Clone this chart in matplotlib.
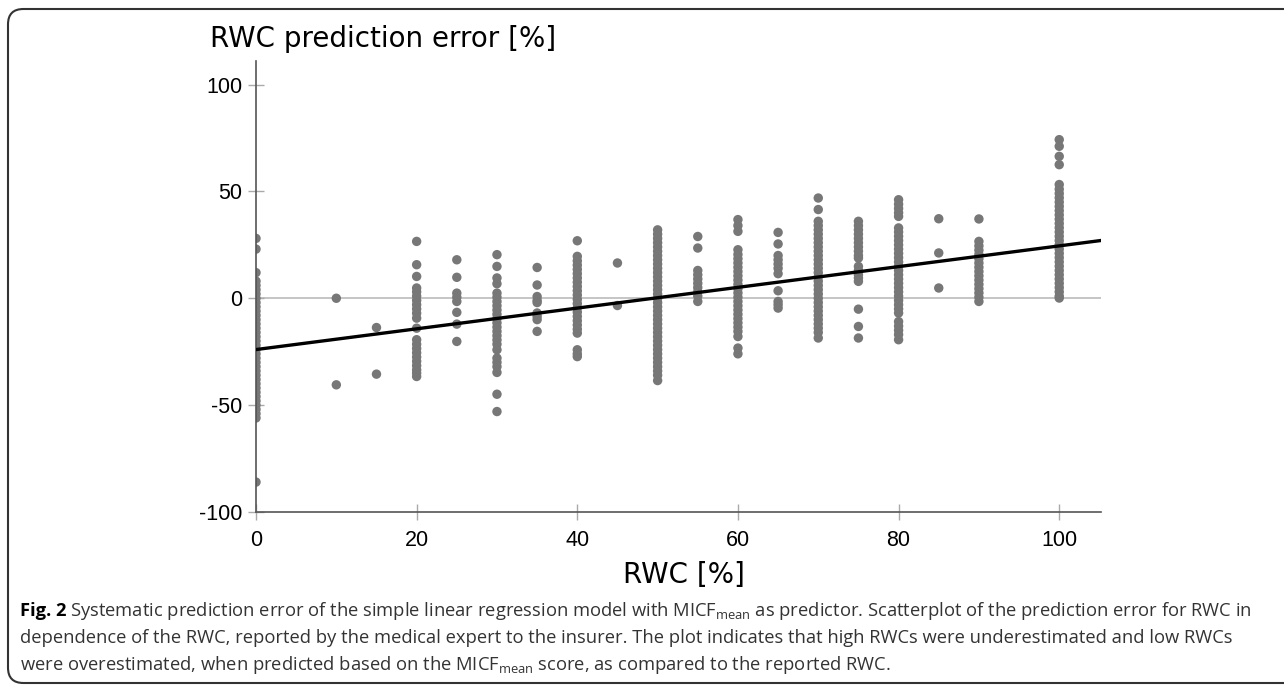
import numpy as np
import matplotlib
matplotlib.use("Agg")
import matplotlib.pyplot as plt
from matplotlib.patches import FancyBboxPatch

# reported RWC groups and prediction errors
err_00 = [28, 23, 12, 8, 6, 4, 2, 0, -2, -4, -6, -8, -10, -12, -14, -16, -18, -20, -22,
          -24, -26, -28, -30, -32, -34, -36, -38, -40, -42, -44, -46, -48, -50, -52,
          -54, -56, -86]
err_10 = [0, -40.5]
err_15 = [-13.7, -35.5]
err_20 = [26.6, 15.7, 10.2, 4.8, 3, 1, -1, -3, -5, -7, -9.3, -14, -19.4, -21.5, -23.5,
          -25.5, -27.5, -29.5, -31.5, -33.5, -35, -36.6]
err_25 = [18, 9.8, 2.4, 0.5, -1.5, -6.6, -12.1, -20.2]
err_30 = [20.4, 14.9, 9.5, 6.8, 2.4, 0.5, -1.5, -3.5, -5.5, -7.5, -9.5, -11.5, -13.5,
          -15.5, -17.5, -19.5, -21.5, -24.1, -28, -30, -32, -34.7, -44.9, -53]
err_35 = [14.4, 6.2, 0.8, -1, -2, -6.9, -8.5, -10, -15.5]
err_40 = [26.9, 19.6, 17.5, 15.5, 13.5, 11.5, 9.5, 7.5, 5.5, 3.5, 1.5, -0.5, -2.5, -4.5,
          -6.5, -8.5, -10.5, -12.5, -14.5, -16.3, -24.1, -26, -27.3]
err_45 = [16.5, -3.4]
err_50 = [32, 30, 28, 26, 24, 22, 20, 18, 16, 14, 12, 10, 8, 6, 4, 2, 0, -2, -4, -6,
          -8, -10, -12, -14, -16, -18, -20, -22, -24, -26, -28, -30, -32, -34, -36, -38.5]
err_55 = [28.9, 23.5, 13, 11, 9, 7, 5, 3, 1, -1.5]
err_60 = [36.8, 34, 31.3, 22.7, 20.5, 18.5, 16.5, 14.5, 12.5, 10.5, 8.5, 6.5, 4.5, 2.5,
          0.5, -1.5, -3.5, -5.5, -7.5, -9.5, -11.5, -13.5, -15.5, -17.9, -23.3, -26]
err_65 = [30.8, 25.4, 20, 18, 16, 14, 11.5, 3.5, -1.5, -3, -4.6]
err_70 = [46.9, 41.5, 36, 34, 32, 30, 28, 26, 24, 22, 20, 18, 16, 14, 12, 10, 8, 6, 4,
          2, 0, -2, -4, -6, -8, -10, -12, -14, -16, -18.6]
err_75 = [36, 34, 32, 30, 28, 26, 24, 22, 20, 18.8, 14.9, 13, 11, 9.5, 7.9, -5.1, -13.2,
          -18.6]
err_80 = [46.1, 44, 42, 40, 38.3, 32.9, 31, 29, 27, 25, 23, 21, 19, 17, 15, 13, 11, 9,
          7, 5, 3, 1, -1, -3, -5, -6.9, -10.9, -13, -15, -17, -19.4]
err_85 = [37.2, 21.2, 4.8]
err_90 = [37.1, 26.6, 24.5, 22.5, 20.5, 18.5, 16.5, 14.5, 12.5, 10.5, 8.5, 6.5, 4.5,
          2.5, 0.5, -1.5]
err_100 = [74.2, 71.1, 66.4, 62.5, 53.2, 51, 49, 47, 45, 43, 41, 39, 37, 35, 33, 31,
           29, 27, 25, 23, 21, 19, 17, 15, 13, 11, 9, 7, 5, 3, 1, 0.1]

rwc_groups = [0, 10, 15, 20, 25, 30, 35, 40, 45, 50, 55, 60, 65, 70, 75, 80, 85, 90, 100]
errors = [err_00, err_10, err_15, err_20, err_25, err_30, err_35, err_40, err_45, err_50,
          err_55, err_60, err_65, err_70, err_75, err_80, err_85, err_90, err_100]

fit_intercept = -24.0
fit_slope = 0.485

x_ticks = [0, 20, 40, 60, 80, 100]
y_ticks = [-100, -50, 0, 50, 100]

W, H = 1284, 685
fig = plt.figure(figsize=(W / 100, H / 100), dpi=100)

# rounded frame around the whole figure (right side runs off the image)
frame = FancyBboxPatch((8 / W, 2 / H), 1.2, (H - 11) / H,
                       boxstyle="round,pad=0,rounding_size=0.012",
                       transform=fig.transFigure, facecolor="none",
                       edgecolor="#333333", linewidth=1.5, mutation_aspect=W / H)
fig.patches.append(frame)

ax = fig.add_axes([256 / W, (H - 512) / H, (1101 - 256) / W, (512 - 61) / H])

xs = np.concatenate([[g] * len(e) for g, e in zip(rwc_groups, errors)])
ys = np.concatenate(errors)
ax.axhline(0, color="#bbbbbb", lw=1.2, zorder=1)
ax.scatter(xs, ys, s=46, color="#777777", edgecolors="none", zorder=2)

line_x = np.array([0, 105.2])
ax.plot(line_x, fit_intercept + fit_slope * line_x, color="black", lw=2.4, zorder=3)

ax.set_xlim(0, 105.2)
ax.set_ylim(-100, 111)
ax.set_xticks(x_ticks)
ax.set_yticks(y_ticks)
ax.set_xticklabels([str(t) for t in x_ticks])
ax.set_yticklabels([str(t) for t in y_ticks])

for side in ["top", "right"]:
    ax.spines[side].set_visible(False)
for side in ["left", "bottom"]:
    ax.spines[side].set_color("#555555")
    ax.spines[side].set_linewidth(1.2)

ax.tick_params(axis="both", direction="inout", length=12, width=1, color="#aaaaaa",
               labelsize=15.5, labelcolor="black")
ax.tick_params(axis="x", pad=7)
ax.tick_params(axis="y", pad=4)
for lab in ax.get_xticklabels() + ax.get_yticklabels():
    lab.set_fontfamily("Liberation Sans")

fig.text(210 / W, 1 - 47 / H, "RWC prediction error [%]", fontsize=20,
         family="DejaVu Sans", va="baseline", ha="left")
fig.text(684 / W, 1 - 583 / H, "RWC [%]", fontsize=20, family="DejaVu Sans",
         va="baseline", ha="center")

# caption
plt.rcParams["mathtext.fontset"] = "custom"
plt.rcParams["mathtext.rm"] = "Open Sans"
cap_size = 13.2
cap_color = "#333333"
cap_x = 20 / W
fig.canvas.draw()
renderer = fig.canvas.get_renderer()
bold = fig.text(cap_x, 1 - 616 / H, "Fig. 2", fontsize=cap_size, family="Open Sans",
                weight="bold", color="black", va="baseline")
bb = bold.get_window_extent(renderer)
fig.text(bb.x1 / W + 4 / W, 1 - 616 / H,
         "Systematic prediction error of the simple linear regression model with "
         r"MICF$_{\mathrm{mean}}$ as predictor. Scatterplot of the prediction error for RWC in",
         fontsize=cap_size, family="Open Sans", color=cap_color, va="baseline")
fig.text(cap_x, 1 - 643 / H,
         "dependence of the RWC, reported by the medical expert to the insurer. "
         "The plot indicates that high RWCs were underestimated and low RWCs",
         fontsize=cap_size, family="Open Sans", color=cap_color, va="baseline")
fig.text(cap_x, 1 - 670 / H,
         r"were overestimated, when predicted based on the MICF$_{\mathrm{mean}}$ score, "
         "as compared to the reported RWC.",
         fontsize=cap_size, family="Open Sans", color=cap_color, va="baseline")

fig.savefig("out.png", dpi=100)
